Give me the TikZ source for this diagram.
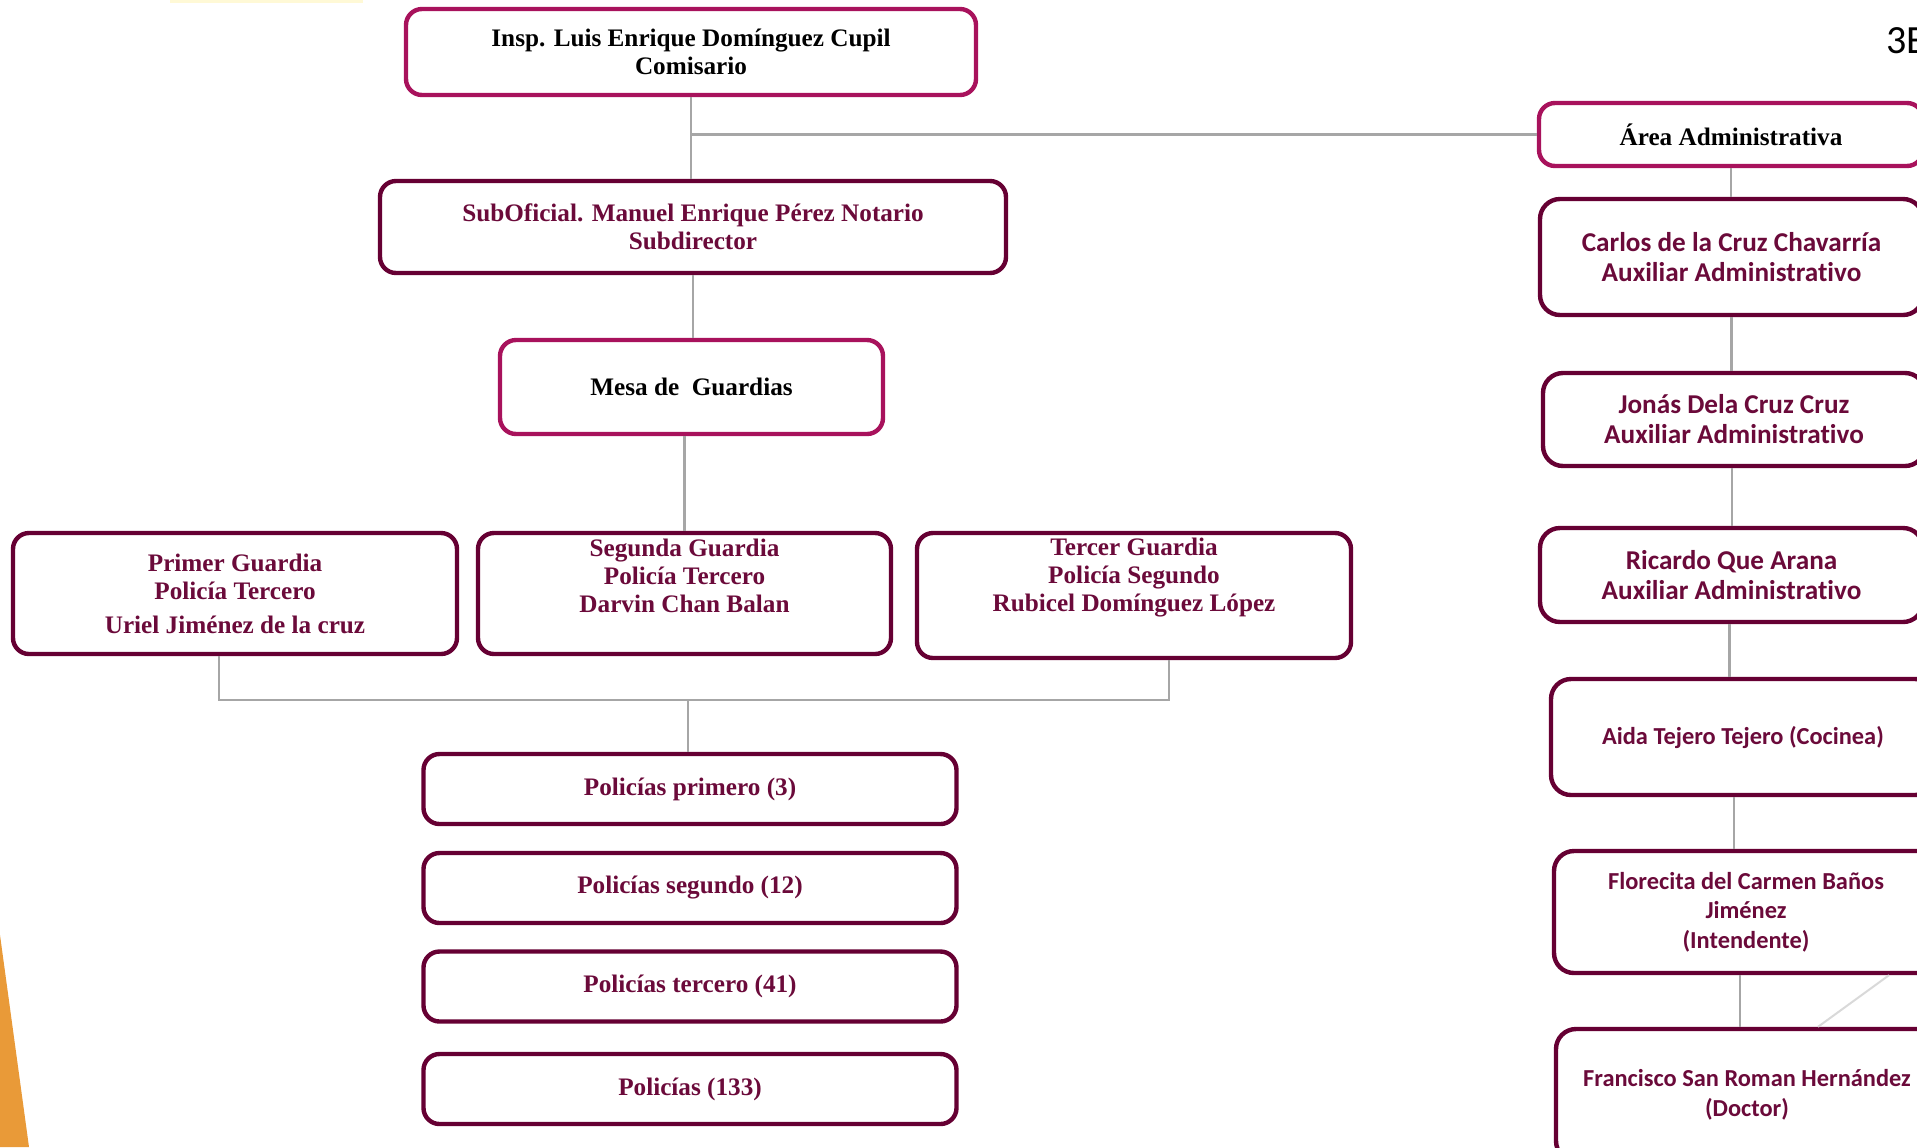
\documentclass[tikz,border=0pt]{standalone}
\usepackage{fontspec}
\setmainfont{Liberation Serif}
\newfontfamily\calibri[Ligatures=NoCommon]{Carlito}
\usetikzlibrary{calc,positioning}
\definecolor{rosa}{HTML}{A8125C}
\definecolor{vino}{HTML}{660033}
\definecolor{vinotxt}{HTML}{6B0A3A}
\definecolor{gris}{HTML}{A6A6A6}
\definecolor{grisclaro}{HTML}{D9D9D9}
\definecolor{naranja}{HTML}{E99A38}
\definecolor{amarillo}{HTML}{FFF9D6}
\tikzset{
  caja/.style 2 args={draw=vino,line width=2.2pt,rounded corners=8pt,fill=white,
    minimum width=#1,minimum height=#2,inner sep=0pt,align=center,text=vinotxt,
    font=\bfseries\fontsize{12.6}{14}\selectfont},
  jefe/.style 2 args={caja={#1}{#2},draw=rosa,text=black},
  cajader/.style 2 args={caja={#1}{#2},rounded corners=10pt,
    font=\calibri\bfseries\fontsize{13.6}{15}\selectfont},
  cajachica/.style 2 args={cajader={#1}{#2},
    font=\calibri\bfseries\fontsize{12.2}{14.75}\selectfont},
  texto/.style={inner sep=0pt,align=center,text=vinotxt,
    font=\bfseries\fontsize{12.6}{14}\selectfont},
  liga/.style={draw=gris,line width=1.2pt},
}
\begin{document}
\begin{tikzpicture}[x=0.5pt,y=-0.5pt]
  \useasboundingbox (0,0) rectangle (1917,1147);
  \fill[amarillo] (170,0) rectangle (363,3);
  \fill[naranja] (0,935) -- (29,1147) -- (0,1147) -- cycle;
  \node[anchor=west,inner sep=0pt,font=\calibri\fontsize{20}{24}\selectfont] (pag) at (1886,41) {3E};

  % mando
  \node[jefe={285pt}{43pt}] (com) at (691,52) {Insp. Luis Enrique Domínguez Cupil\\Comisario};
  \node[caja={313pt}{46pt}] (sub) at (693,227) {SubOficial. Manuel Enrique Pérez Notario\\Subdirector};
  \node[jefe={191.5pt}{47pt}] (mesa) at (691.5,387) {Mesa de~ Guardias};

  % guardias
  \node[caja={222pt}{60.5pt}] (g1) at (235,593.5) {Primer Guardia\\Policía Tercero\\[3pt]Uriel Jiménez de la cruz};
  \node[caja={206.5pt}{60.5pt}] (g2) at (684.5,593.5) {};
  \node[texto] (g2t) at ($(g2)+(0,-18)$) {Segunda Guardia\\Policía Tercero\\Darvin Chan Balan};
  \node[caja={217pt}{62.5pt}] (g3) at (1134,595.5) {};
  \node[texto] (g3t) at ($(g3)+(0,-18)$) {Tercer Guardia\\Policía Segundo\\Rubicel Domínguez López};

  \foreach \n/\y/\t in {p1/789/{Policías primero (3)},p2/888/{Policías segundo (12)},
      p3/986.5/{Policías tercero (41)},p4/1089/{Policías (133)}}
    \node[caja={266.5pt}{35pt}] (\n) at (690,\y) {\t};

  % area administrativa
  \node[jefe={192pt}{31.5pt}] (area) at (1731,134.5) {Área Administrativa};
  \node[cajader={191.5pt}{58pt}] (carlos) at (1731.5,257) {Carlos de la Cruz Chavarría\\Auxiliar Administrativo};
  \node[cajader={191pt}{46.5pt}] (jonas) at (1734,419.5) {Jonás Dela Cruz Cruz\\Auxiliar Administrativo};
  \node[cajader={191.5pt}{47pt}] (ricardo) at (1731.5,575) {Ricardo Que Arana\\Auxiliar Administrativo};
  \node[cajachica={192pt}{58pt}] (aida) at (1743,737) {Aida Tejero Tejero (Cocinea)};
  \node[cajachica={192pt}{61pt}] (flor) at (1746,912) {Florecita del Carmen Baños\\Jiménez\\(Intendente)};
  \node[cajachica={191pt}{66pt}] (fran) at (1747,1095) {Francisco San Roman Hernández\\(Doctor)};

  % lineas
  \draw[liga] (com.south) -- (com.south |- sub.north);
  \draw[liga] (com.south |- area.west) -- (area.west);
  \draw[liga] (sub.south) -- (sub.south |- mesa.north);
  \draw[liga] (g2.north |- mesa.south) -- (g2.north);
  \coordinate (bus) at (688,700);
  \draw[liga] ($(g1.south)+(-16,0)$) |- (bus) -| ($(g3.south)+(35,0)$);
  \draw[liga] (bus) -- (bus |- p1.north);
  \draw[liga] (area.south) -- (area.south |- carlos.north);
  \foreach \a/\b/\dx in {carlos/jonas/0,jonas/ricardo/-2,ricardo/aida/-2,aida/flor/-9,flor/fran/-6}{
    \coordinate (s) at ($(\a.south)+(\dx,0)$);
    \draw[liga] (s) -- (s |- \b.north);
  }
  \draw[grisclaro,line width=1pt] ($(flor.south)+(143,0)$) -- ($(fran.north)+(71,0)$);
\end{tikzpicture}
\end{document}
